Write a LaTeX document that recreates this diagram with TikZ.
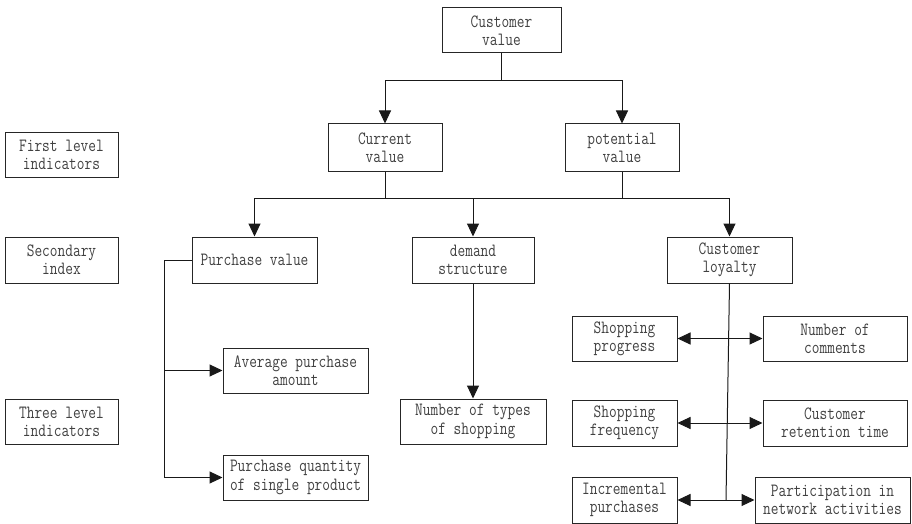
\documentclass[tikz,border=0pt]{standalone}
\usepackage{fontspec}
\newfontfamily\boxfont[FakeStretch=0.8]{Latin Modern Mono}
\usetikzlibrary{arrows.meta}
\tikzset{
  bx/.style={draw=black!85, line width=1pt, inner sep=0pt, align=center,
    font=\boxfont\fontsize{18.7}{18.3}\selectfont, text=black!75},
  ln/.style={draw=black!90, line width=1pt},
  arr/.style={ln, -{Triangle[length=13pt,width=12pt]}},
  darr/.style={ln, {Triangle[length=13pt,width=12pt]}-{Triangle[length=13pt,width=12pt]}}
}
\begin{document}
\begin{tikzpicture}[x=1pt,y=-1pt]
\useasboundingbox (0,0) rectangle (912,524);
% nodes
\node[bx, minimum width=119pt, minimum height=45pt] (cv) at (501.5,30.5) {Customer\\value};
\node[bx, minimum width=114pt, minimum height=47pt] (cur) at (385,147.5) {Current\\value};
\node[bx, minimum width=114pt, minimum height=47pt] (pot) at (622,147.5) {potential\\value};
\node[bx, minimum width=113pt, minimum height=45pt] (fl) at (61.5,154.5) {First level\\indicators};
\node[bx, minimum width=113pt, minimum height=46pt] (si) at (61.5,260) {Secondary\\index};
\node[bx, minimum width=113pt, minimum height=45pt] (tl) at (61.5,421.5) {Three level\\indicators};
\node[bx, minimum width=125pt, minimum height=46pt] (pv) at (254.5,260) {Purchase value};
\node[bx, minimum width=122pt, minimum height=46pt] (ds) at (473,260) {demand\\structure};
\node[bx, minimum width=125pt, minimum height=46pt] (cl) at (729.5,260) {Customer\\loyalty};
\node[bx, minimum width=145pt, minimum height=45pt] (apa) at (295.5,370.5) {Average purchase\\amount};
\node[bx, minimum width=145pt, minimum height=45pt] (pq) at (295.5,477.5) {Purchase quantity\\of single product};
\node[bx, minimum width=146pt, minimum height=45pt] (nt) at (473,421.5) {Number of types\\of shopping};
\node[bx, minimum width=105pt, minimum height=45pt] (sp) at (624.5,338.5) {Shopping\\progress};
\node[bx, minimum width=144pt, minimum height=45pt] (nc) at (835,338.5) {Number of\\comments};
\node[bx, minimum width=105pt, minimum height=46pt] (sf) at (624.5,423) {Shopping\\frequency};
\node[bx, minimum width=144pt, minimum height=46pt] (crt) at (835,423) {Customer\\retention time};
\node[bx, minimum width=105pt, minimum height=46pt] (ip) at (624.5,500) {Incremental\\purchases};
\node[bx, minimum width=155pt, minimum height=46pt] (pna) at (832.5,500) {Participation in\\network activities};
% junctions
\coordinate (j1) at (501.5,81);
\coordinate (j2) at (473,198);
\coordinate (b1) at (164,370.5);
\coordinate (b2) at (164,477.5);
\coordinate (c3) at (726,500);
% connectors
\draw[ln] (cv) -- (j1);
\draw[arr] (j1) -| (cur);
\draw[arr] (j1) -| (pot);
\draw[ln] (cur) -- (cur |- j2);
\draw[ln] (pot) -- (pot |- j2);
\draw[arr] (j2) -| (pv);
\draw[arr] (j2) -| (cl);
\draw[arr] (j2) -- (ds);
\draw[ln] (pv.west) -- (pv.west -| b2) -- (b2);
\draw[arr] (b1) -- (apa);
\draw[arr] (b2) -- (pq);
\draw[arr] (ds) -- (nt);
\draw[ln] (cl.south) -- (c3);
\draw[darr] (sp) -- (nc);
\draw[darr] (sf) -- (crt);
\draw[darr] (ip) -- (pna);
\end{tikzpicture}
\end{document}
